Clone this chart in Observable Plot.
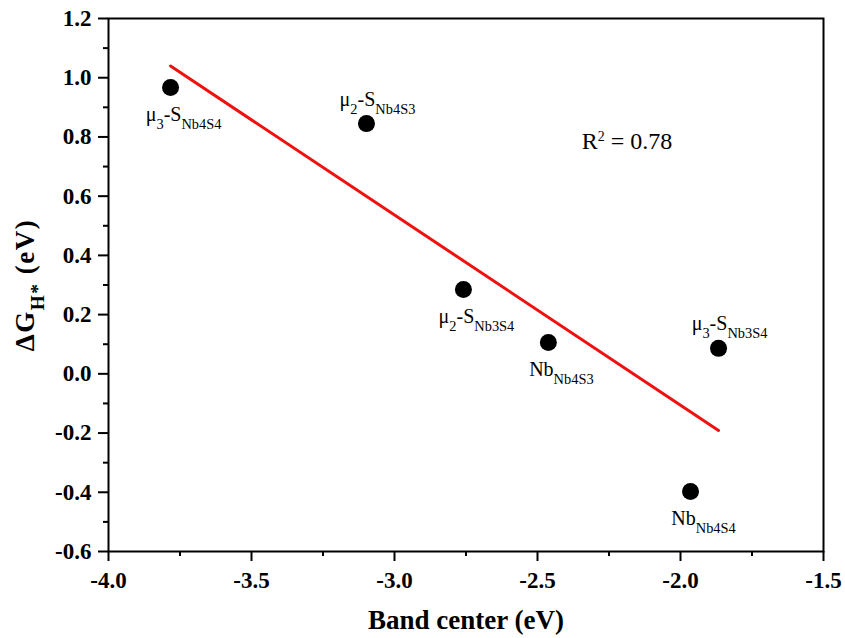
<!DOCTYPE html>
<html>
<head>
<meta charset="utf-8">
<script src="https://cdn.jsdelivr.net/npm/d3@7"></script>
<script src="https://cdn.jsdelivr.net/npm/@observablehq/plot@0.6"></script>
<style>
  html, body { margin: 0; padding: 0; background: #fff; }
  svg { display: block; }
  svg text { font-family: "Liberation Serif", "Times New Roman", serif !important; }
</style>
</head>
<body>
<div id="chart"></div>
<script>
// ---- data ----
const siteLabels = ["μ_{3}-S_{Nb4S4}", "μ_{2}-S_{Nb4S3}", "μ_{2}-S_{Nb3S4}", "Nb_{Nb4S3}", "μ_{3}-S_{Nb3S4}", "Nb_{Nb4S4}"];
const bandCenter = [-3.783, -3.098, -2.759, -2.462, -1.867, -1.965];
const deltaG = [0.967, 0.845, 0.285, 0.106, 0.086, -0.397];

const xTicks = [-4.0, -3.5, -3.0, -2.5, -2.0, -1.5];
const xMinorTicks = [-3.75, -3.25, -2.75, -2.25, -1.75];
const yTicks = [-0.6, -0.4, -0.2, 0.0, 0.2, 0.4, 0.6, 0.8, 1.0, 1.2];
const yMinorTicks = [-0.5, -0.3, -0.1, 0.1, 0.3, 0.5, 0.7, 0.9, 1.1];

const xTitle = ["Band center (eV)"];
const yTitle = ["ΔG_{H*} (eV)"];
const r2Text = ["R^{2} = 0.78"];
const r2X = [-2.187];
const r2Y = [0.758];

// ---- chart ----
const idx = siteLabels.map((_, i) => i);
const aboveSites = new Set(["μ_{2}-S_{Nb4S3}", "μ_{3}-S_{Nb3S4}"]);
const fmt = d => d.toFixed(1);
const serif = "'Liberation Serif', 'Times New Roman', serif";

const chart = Plot.plot({
  width: 845,
  height: 638,
  marginLeft: 108,
  marginRight: 22,
  marginTop: 18,
  marginBottom: 87,
  style: { fontFamily: serif, fontSize: "20px", color: "black", background: "white", overflow: "visible" },
  x: { domain: [-4.0, -1.5] },
  y: { domain: [-0.6, 1.2] },
  marks: [
    // ticks (labels drawn separately)
    Plot.axisX(xTicks, { tickSize: 10, strokeWidth: 2, text: null, label: null }),
    Plot.axisX(xMinorTicks, { tickSize: 5, strokeWidth: 2, text: null, label: null }),
    Plot.axisY(yTicks, { tickSize: 10, strokeWidth: 2, text: null, label: null }),
    Plot.axisY(yMinorTicks, { tickSize: 5, strokeWidth: 2, text: null, label: null }),
    // tick labels
    Plot.text(xTicks, { x: d => d, frameAnchor: "bottom", text: fmt, lineAnchor: "top", textAnchor: "middle", dy: 20, fontSize: 23, fontWeight: "bold", fill: "black" }),
    Plot.text(yTicks, { y: d => d, frameAnchor: "left", text: fmt, lineAnchor: "middle", textAnchor: "end", dx: -17, fontSize: 23, fontWeight: "bold", fill: "black" }),
    Plot.frame({ stroke: "black", strokeWidth: 2 }),
    Plot.linearRegressionY(idx, { x: i => bandCenter[i], y: i => deltaG[i], stroke: "#f01010", strokeWidth: 3, ci: 0 }),
    Plot.dot(idx, { x: i => bandCenter[i], y: i => deltaG[i], r: 8.5, fill: "black", stroke: "none" }),
    Plot.text(idx.filter(i => !aboveSites.has(siteLabels[i])), {
      x: i => bandCenter[i], y: i => deltaG[i], text: i => siteLabels[i],
      dx: 13, dy: 34, lineAnchor: "bottom", textAnchor: "middle", fontSize: 20, fill: "black"
    }),
    Plot.text(idx.filter(i => aboveSites.has(siteLabels[i])), {
      x: i => bandCenter[i], y: i => deltaG[i], text: i => siteLabels[i],
      dx: 11, dy: -18, lineAnchor: "bottom", textAnchor: "middle", fontSize: 20, fill: "black"
    }),
    Plot.text(r2Text, { x: r2X, y: r2Y, text: d => d, lineAnchor: "bottom", textAnchor: "middle", fontSize: 24, fill: "black" }),
    Plot.text(xTitle, { frameAnchor: "bottom", text: d => d, lineAnchor: "bottom", textAnchor: "middle", dy: 77, fontSize: 27, fontWeight: "bold", fill: "black" }),
    Plot.text(yTitle, { frameAnchor: "left", text: d => d, rotate: -90, lineAnchor: "bottom", textAnchor: "middle", dx: -75, fontSize: 27, fontWeight: "bold", fill: "black" })
  ]
});

// rich text: _{..} subscript, ^{..} superscript
function richText(svg) {
  const NS = "http://www.w3.org/2000/svg";
  svg.querySelectorAll("text").forEach(el => {
    const s = el.textContent;
    if (!/[_^]\{/.test(s)) return;
    const fs = parseFloat(getComputedStyle(el).fontSize) || 20;
    el.textContent = "";
    const re = /([_^])\{([^}]*)\}|([^_^]+)/g;
    let m, offset = 0;
    while ((m = re.exec(s))) {
      const ts = document.createElementNS(NS, "tspan");
      let target = 0;
      if (m[1]) {
        const sub = m[1] === "_";
        ts.textContent = m[2];
        ts.setAttribute("font-size", (fs * (sub ? 0.72 : 0.58)).toFixed(1));
        target = sub ? fs * 0.4 : -fs * 0.33;
      } else {
        ts.textContent = m[3];
      }
      const d = target - offset;
      if (d !== 0) ts.setAttribute("dy", d.toFixed(2));
      offset = target;
      el.appendChild(ts);
    }
  });
}

document.getElementById("chart").appendChild(chart);
richText(chart);
// y title is drawn wider-spaced in the original
chart.querySelectorAll("text").forEach(el => {
  if (el.textContent.startsWith("ΔG")) el.style.letterSpacing = "1.5px";
});
</script>
</body>
</html>
